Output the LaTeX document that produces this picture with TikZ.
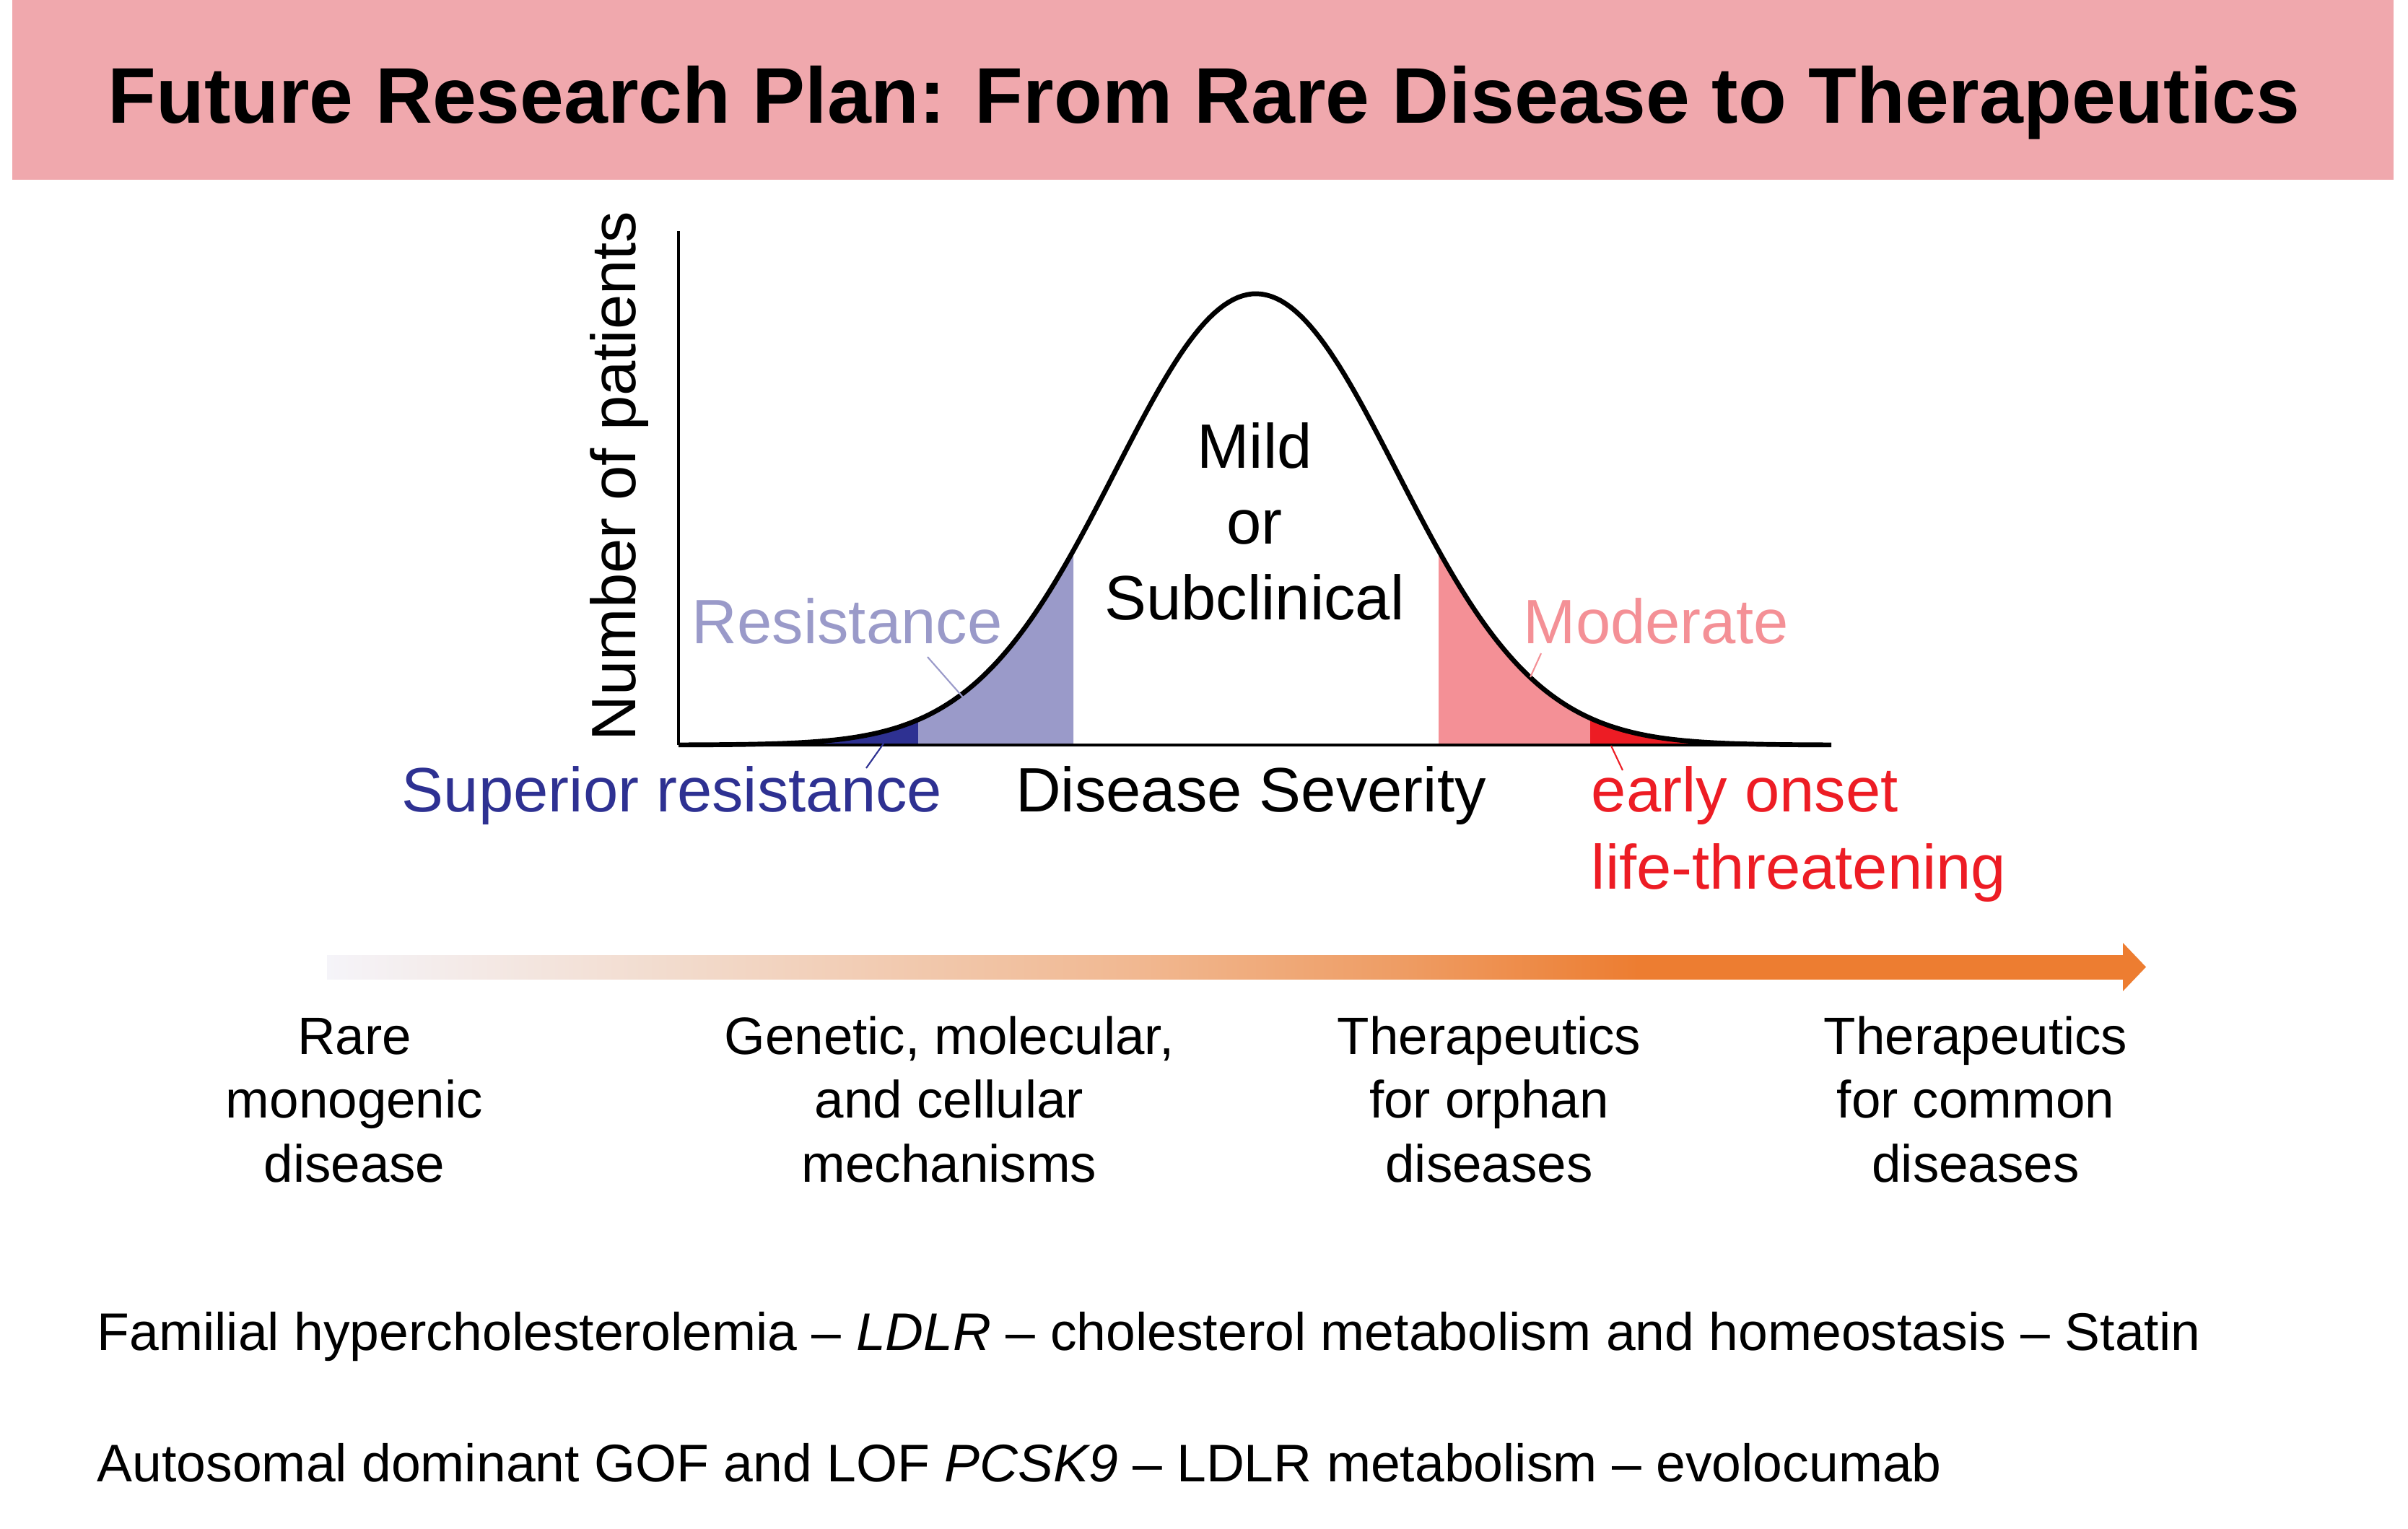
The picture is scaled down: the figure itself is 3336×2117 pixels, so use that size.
\documentclass[tikz,border=0pt]{standalone}
\usepackage{fontspec}
\setmainfont{Liberation Sans}
\definecolor{titlebg}{HTML}{F0A8AD}
\definecolor{lav}{HTML}{9A9AC9}
\definecolor{dblue}{HTML}{2E3192}
\definecolor{pinkc}{HTML}{F49096}
\definecolor{redc}{HTML}{ED1C24}
\definecolor{g0}{HTML}{F5F4F9}
\definecolor{g1}{HTML}{F2DACB}
\definecolor{g2}{HTML}{F1B891}
\definecolor{g3}{HTML}{EE9C63}
\definecolor{orng}{HTML}{ED7D31}
\pgfdeclarehorizontalshading{arrowgrad}{100bp}{color(0bp)=(g0); color(25bp)=(g0); color(35bp)=(g1); color(47.5bp)=(g2); color(55bp)=(g3); color(61.5bp)=(orng); color(75bp)=(orng); color(100bp)=(orng)}
\begin{document}
\begin{tikzpicture}[x=0.01cm,y=-0.01cm,
  declare function={g(\x)=1032-625*exp(-((\x-1740)/195)^2/2);},
  lbl/.style={inner sep=0pt, font=\fontsize{24.7}{29.9}\selectfont},
  sml/.style={inner sep=0pt, font=\fontsize{20.7}{25.1}\selectfont, align=center},
  exm/.style={inner sep=0pt, font=\fontsize{20.85}{25.1}\selectfont},
  ttl/.style={inner sep=0pt, font=\fontsize{31.1}{36}\selectfont\bfseries},
  leader/.style={line width=0.6pt}]
\useasboundingbox (0,0) rectangle (3336,2117);
\fill[white] (0,0) rectangle (3336,2117);
% title band
\fill[titlebg] (17,0) rectangle (3316,249);
\node[ttl, anchor=base] (title) at (1668,170) {Future Research Plan: From Rare Disease to Therapeutics};
% shaded areas under the curve
\fill[dblue] (1100,1032) -- plot[domain=1100:1272, samples=40] (\x,{g(\x)}) -- (1272,1032) -- cycle;
\fill[lav] (1272,1032) -- plot[domain=1272:1487, samples=40] (\x,{g(\x)}) -- (1487,1032) -- cycle;
\fill[pinkc] (1993,1032) -- plot[domain=1993:2203, samples=40] (\x,{g(\x)}) -- (2203,1032) -- cycle;
\fill[redc] (2203,1032) -- plot[domain=2203:2380, samples=40] (\x,{g(\x)}) -- (2380,1032) -- cycle;
% axes
\coordinate (ytop) at (940,320);
\coordinate (origin) at (940,1032);
\coordinate (xend) at (2537,1032);
\draw[line width=1pt] (ytop) -- (origin);
\draw[line width=1.2pt] (origin) -- (xend);
% curve
\draw[line width=1.9pt, line join=round] plot[domain=940:2537, samples=240] (\x,{g(\x)});
% axis labels
\node[lbl, rotate=90, anchor=base west] (ylab) at (880,1027) {Number of patients};
\node[lbl, anchor=base] (xlab) at (1733,1124) {Disease Severity};
% region labels
\node[lbl, anchor=base] (mild1) at (1738,648) {Mild};
\node[lbl, anchor=base] (mild2) at (1738,753) {or};
\node[lbl, anchor=base] (mild3) at (1738,858) {Subclinical};
\node[lbl, anchor=base west, text=lav] (resist) at (958,891) {Resistance};
\node[lbl, anchor=base west, text=pinkc] (moder) at (2110,891) {Moderate};
\node[lbl, anchor=base east, text=dblue] (superior) at (1306,1124) {Superior resistance};
\node[lbl, anchor=base west, text=redc] (early1) at (2204,1124) {early onset};
\node[lbl, anchor=base west, text=redc] (early2) at (2204,1231) {life-threatening};
% leader lines
\coordinate (rA) at (1285,910); \coordinate (rB) at (1336,968);
\coordinate (sA) at (1224,1030); \coordinate (sB) at (1200,1064);
\coordinate (mA) at (2135,905); \coordinate (mB) at (2120,938);
\coordinate (eA) at (2232,1033); \coordinate (eB) at (2248,1067);
\draw[leader, lav] (rA) -- (rB);
\draw[leader, dblue] (sA) -- (sB);
\draw[leader, pinkc] (mA) -- (mB);
\draw[leader, redc] (eA) -- (eB);
% gradient arrow
\shade[shading=arrowgrad] (453,1323) rectangle (2942,1356);
\fill[orng] (2941,1306) -- (2973,1339.5) -- (2941,1373) -- cycle;
% stage labels (base = last line)
\node[sml, anchor=base] (s1) at (491,1637) {Rare\\monogenic\\disease};
\node[sml, anchor=base] (s2) at (1315,1637) {Genetic, molecular,\\and cellular\\mechanisms};
\node[sml, anchor=base] (s3) at (2063,1637) {Therapeutics\\for orphan\\diseases};
\node[sml, anchor=base] (s4) at (2737,1637) {Therapeutics\\for common\\diseases};
% examples
\node[exm, anchor=base west] (ex1) at (134,1870) {Familial hypercholesterolemia – \textit{LDLR} – cholesterol metabolism and homeostasis – Statin};
\node[exm, anchor=base west] (ex2) at (134,2052) {Autosomal dominant GOF and LOF \textit{PCSK9} – LDLR metabolism – evolocumab};
\end{tikzpicture}
\end{document}
